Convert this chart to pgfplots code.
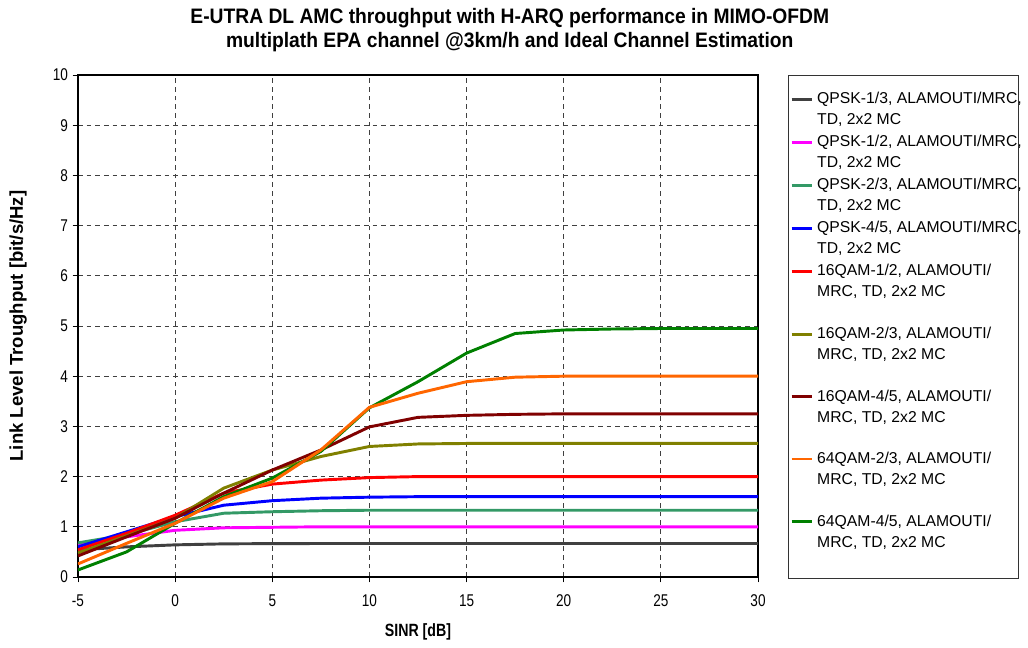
\documentclass[border=0pt]{standalone}
\usepackage{fontspec}
\setmainfont{Liberation Sans}
\newfontfamily\narrowfont{Liberation Sans}[FakeStretch=0.8]
\newfontfamily\titlefont{Liberation Sans}[FakeStretch=0.92]
\usepackage{pgfplots}
\pgfplotsset{compat=1.18}
\definecolor{cgray}{HTML}{404040}
\definecolor{cmag}{HTML}{FF00FF}
\definecolor{cteal}{HTML}{339966}
\definecolor{cblue}{HTML}{0000FF}
\definecolor{cred}{HTML}{FF0000}
\definecolor{colive}{HTML}{808000}
\definecolor{cmaroon}{HTML}{800000}
\definecolor{corange}{HTML}{FF6600}
\definecolor{cgreen}{HTML}{008000}
\newcommand{\la}[2][15pt]{\rule[-4.5pt]{0pt}{\dimexpr#1+4.5pt\relax}#2}
\newcommand{\lb}[1]{\rule[-4.5pt]{0pt}{18.75pt}#1}
\begin{document}
\begin{tikzpicture}
\begin{axis}[
  scale only axis, width=510pt, height=376.5pt,
  xmin=-5, xmax=30, ymin=0, ymax=10,
  xtick={-5,0,5,10,15,20,25,30}, ytick={0,1,2,3,4,5,6,7,8,9,10},
  grid=major,
  major grid style={black!75, line width=0.6pt, dash pattern=on 3.5pt off 3pt},
  tick align=outside, tick pos=left, major tick length=4pt,
  tick style={black, line width=0.6pt},
  axis line style={black, line width=0.8pt},
  /pgf/number format/assume math mode=true,
  ticklabel style={font=\narrowfont\fontsize{12.75}{14}\selectfont},
  xticklabel style={yshift=-6pt},
  every axis title shift=0pt,
  title={E-UTRA DL AMC throughput with H-ARQ performance in MIMO-OFDM\\multiplath EPA channel @3km/h and Ideal Channel Estimation},
  title style={font=\titlefont\bfseries\fontsize{15.7}{18}\selectfont, align=center, at={(axis description cs:0.635,1.0896)}, anchor=center},
  xlabel={SINR [dB]}, ylabel={Link Level Troughput [bit/s/Hz]},
  xlabel style={font=\narrowfont\bfseries\fontsize{13.3}{14}\selectfont, at={(axis description cs:0.5,-0.109)}, anchor=center},
  ylabel style={font=\bfseries\fontsize{13.9}{15}\selectfont, at={(axis description cs:-0.088,0.5)}, anchor=center},
  legend cell align=left,
  legend style={at={(1,1)}, anchor=north west, xshift=24pt, yshift=-6.45pt, draw=none, fill=none,
    font=\fontsize{11.8}{15}\selectfont, row sep=0pt, column sep=3pt, inner sep=0pt,
    nodes={inner sep=0pt}, cells={anchor=base west}},
  legend image code/.code={\draw[#1, line width=2.2pt] (0pt,3.6pt) -- (15pt,3.6pt);},
  every axis plot/.append style={line width=2.2pt, line join=round},
]
\addplot[cgray] coordinates {(-5,0.54) (-2.5,0.60) (0,0.64) (2.5,0.66) (5,0.665) (7.5,0.667) (10,0.667) (15,0.667) (20,0.667) (25,0.667) (30,0.667)};
\addlegendentry{\la{QPSK-1/3, ALAMOUTI/MRC,}}
\addlegendimage{empty legend}\addlegendentry{\lb{TD, 2x2 MC}}
\addplot[cmag] coordinates {(-5,0.65) (-2.5,0.80) (0,0.93) (2.5,0.98) (5,0.99) (7.5,1.0) (10,1.0) (15,1.0) (20,1.0) (25,1.0) (30,1.0)};
\addlegendentry{\la{QPSK-1/2, ALAMOUTI/MRC,}}
\addlegendimage{empty legend}\addlegendentry{\lb{TD, 2x2 MC}}
\addplot[cteal] coordinates {(-5,0.68) (-2.5,0.84) (0,1.10) (2.5,1.27) (5,1.30) (7.5,1.32) (10,1.33) (15,1.33) (20,1.33) (25,1.33) (30,1.33)};
\addlegendentry{\la{QPSK-2/3, ALAMOUTI/MRC,}}
\addlegendimage{empty legend}\addlegendentry{\lb{TD, 2x2 MC}}
\addplot[cblue] coordinates {(-5,0.60) (-2.5,0.90) (0,1.20) (2.5,1.43) (5,1.52) (7.5,1.57) (10,1.59) (12.5,1.60) (15,1.60) (20,1.60) (25,1.60) (30,1.60)};
\addlegendentry{\la{QPSK-4/5, ALAMOUTI/MRC,}}
\addlegendimage{empty legend}\addlegendentry{\lb{TD, 2x2 MC}}
\addplot[cred] coordinates {(-5,0.54) (-2.5,0.87) (0,1.23) (2.5,1.67) (5,1.85) (7.5,1.93) (10,1.98) (12.5,2.0) (15,2.0) (20,2.0) (25,2.0) (30,2.0)};
\addlegendentry{\la{16QAM-1/2, ALAMOUTI/}}
\addlegendimage{empty legend}\addlegendentry{\lb{MRC, TD, 2x2 MC}}
\addplot[colive] coordinates {(-5,0.48) (-2.5,0.82) (0,1.17) (2.5,1.77) (5,2.13) (7.5,2.40) (10,2.60) (12.5,2.65) (15,2.66) (20,2.66) (25,2.66) (30,2.66)};
\addlegendentry{\la[30pt]{16QAM-2/3, ALAMOUTI/}}
\addlegendimage{empty legend}\addlegendentry{\lb{MRC, TD, 2x2 MC}}
\addplot[cmaroon] coordinates {(-5,0.42) (-2.5,0.80) (0,1.17) (2.5,1.67) (5,2.13) (7.5,2.53) (10,2.99) (12.5,3.18) (15,3.22) (17.5,3.24) (20,3.25) (25,3.25) (30,3.25)};
\addlegendentry{\la[29.6pt]{16QAM-4/5, ALAMOUTI/}}
\addlegendimage{empty legend}\addlegendentry{\lb{MRC, TD, 2x2 MC}}
\addplot[cgreen, forget plot] coordinates {(-5,0.14) (-2.5,0.50) (0,1.07) (2.5,1.60) (5,1.97) (7.5,2.50) (10,3.37) (12.5,3.89) (15,4.46) (17.5,4.85) (20,4.92) (22.5,4.94) (25,4.95) (30,4.95)};
\addplot[corange] coordinates {(-5,0.26) (-2.5,0.67) (0,1.07) (2.5,1.57) (5,1.90) (7.5,2.53) (10,3.38) (12.5,3.66) (15,3.89) (17.5,3.98) (20,4.0) (25,4.0) (30,4.0)};
\addlegendentry{\la[29.6pt]{64QAM-2/3, ALAMOUTI/}}
\addlegendimage{empty legend}\addlegendentry{\lb{MRC, TD, 2x2 MC}}
\addlegendimage{cgreen}
\addlegendentry{\la[29.6pt]{64QAM-4/5, ALAMOUTI/}}
\addlegendimage{empty legend}\addlegendentry{\lb{MRC, TD, 2x2 MC}}
\coordinate (sw) at (rel axis cs:0,0);
\coordinate (ne) at (rel axis cs:1,1);
\end{axis}
\draw[black!80, line width=0.6pt] ([xshift=22.5pt]ne) rectangle ([xshift=195pt, yshift=-0.75pt]ne |- sw);
\pgfresetboundingbox
\path ([xshift=-58.5pt, yshift=-53.25pt]sw) rectangle ([xshift=712.5pt-510pt, yshift=56.25pt]ne);
\end{tikzpicture}
\end{document}
